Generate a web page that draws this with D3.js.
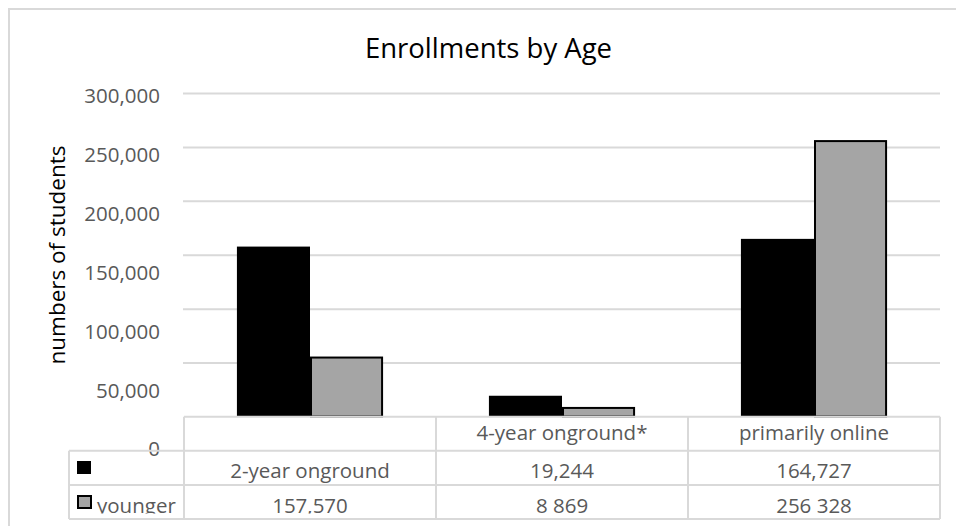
<!DOCTYPE html>
<html>
<head>
<meta charset="utf-8">
<script src="https://cdn.jsdelivr.net/npm/d3@7/dist/d3.min.js"></script>
<style>
  html, body { margin: 0; padding: 0; background: #fff; }
  svg { display: block; font-family: "Open Sans", sans-serif; }
</style>
</head>
<body>
<svg id="chart" width="956" height="526"></svg>
<script>
// Enrollment counts per institution type
const categories = ["2-year onground", "4-year onground*", "primarily online"];
const seriesNames = ["", "younger"];
const olderValues = [157570, 19244, 164727];
const youngerValues = [55600, 8869, 256328];
const yTicks = [0, 50000, 100000, 150000, 200000, 250000, 300000];

// Data-table text as laid out under the plot
const tableHeader = ["", "4-year onground*", "primarily online"];
const tableRowOlder = ["2-year onground", "19,244", "164,727"];
const tableRowYounger = ["157,570", "8 869", "256 328"];

const svg = d3.select("#chart");
const textGray = "#595959";
const lineGray = "#d9d9d9";
const seriesFill = ["#000000", "#a5a5a5"];

const plot = { left: 184, right: 940, top: 93, bottom: 416.5 };

// chart frame
svg.append("path")
  .attr("d", `M9,526 L9,9 L956,9`)
  .attr("fill", "none").attr("stroke", lineGray).attr("stroke-width", 2);

// title
svg.append("text")
  .attr("x", 488.5).attr("y", 58)
  .attr("text-anchor", "middle")
  .attr("font-size", 27.5).attr("fill", "#000")
  .text("Enrollments by Age");

// scales
const y = d3.scaleLinear().domain([0, 300000]).range([plot.bottom, plot.top]);
const yLabel = d3.scaleLinear().domain([0, 300000]).range([448.5, 95.5]);
const x0 = d3.scaleBand().domain(categories).range([plot.left, plot.right]).padding(0);
const groupW = x0.bandwidth() * 0.58;
const x1 = d3.scaleBand().domain(d3.range(seriesNames.length))
  .range([(x0.bandwidth() - groupW) / 2, (x0.bandwidth() + groupW) / 2]).padding(0);

// gridlines
const grid = svg.append("g")
  .attr("transform", `translate(${plot.left - 1},0)`)
  .call(d3.axisLeft(y).tickValues(yTicks.filter(d => d > 0))
    .tickSize(-(plot.right - plot.left + 1)).tickFormat(""));
grid.select(".domain").remove();
grid.selectAll("line").attr("stroke", lineGray).attr("stroke-width", 2);

// tick labels
const labels = svg.append("g")
  .attr("transform", `translate(160,0)`)
  .call(d3.axisLeft(yLabel).tickValues(yTicks).tickSize(0).tickPadding(0)
    .tickFormat(d3.format(",")));
labels.select(".domain").remove();
labels.selectAll("text")
  .attr("fill", textGray).attr("font-size", 20.5)
  .attr("font-family", "'Open Sans', sans-serif")
  .attr("dy", "0.36em");

// axis title
svg.append("text")
  .attr("transform", `translate(65,255) rotate(-90)`)
  .attr("text-anchor", "middle")
  .attr("font-size", 22.5).attr("fill", "#000")
  .text("numbers of students");

// bars
const series = [olderValues, youngerValues];
series.forEach((vals, si) => {
  svg.append("g").selectAll("rect")
    .data(vals)
    .join("rect")
    .attr("x", (d, i) => x0(categories[i]) + x1(si) + (si === 1 ? 1 : 0))
    .attr("y", d => y(d) + (si === 1 ? 1 : 0))
    .attr("width", x1.bandwidth() - (si === 1 ? 2 : 0))
    .attr("height", d => plot.bottom - y(d) - (si === 1 ? 1 : 0))
    .attr("fill", seriesFill[si])
    .attr("stroke", si === 1 ? "#000" : "none")
    .attr("stroke-width", 2);
});

// data table
const rowTop = [416.7, 450.7, 485, 519];
const tableLeft = 69;
const tableLines = svg.append("g").attr("stroke", lineGray).attr("stroke-width", 2).attr("fill", "none");
tableLines.append("line").attr("x1", plot.left).attr("x2", plot.right).attr("y1", rowTop[0]).attr("y2", rowTop[0]);
rowTop.slice(1).forEach(ry => {
  tableLines.append("line").attr("x1", tableLeft).attr("x2", plot.right).attr("y1", ry).attr("y2", ry);
});
tableLines.append("line").attr("x1", tableLeft).attr("x2", tableLeft).attr("y1", rowTop[1]).attr("y2", rowTop[3]);
[plot.left, ...categories.map(c => x0(c) + x0.bandwidth())].forEach(vx => {
  tableLines.append("line").attr("x1", vx).attr("x2", vx).attr("y1", rowTop[0]).attr("y2", rowTop[3]);
});

svg.append("clipPath").attr("id", "rowclip")
  .append("rect").attr("x", 0).attr("y", 0).attr("width", 956).attr("height", 513.5);

const tableText = svg.append("g").attr("clip-path", "url(#rowclip)")
  .attr("fill", textGray).attr("font-size", 20.5).attr("text-anchor", "middle");
const rows = [tableHeader, tableRowOlder, tableRowYounger];
const baselines = [439.5, 478, 512.5];
rows.forEach((cells, ri) => {
  tableText.append("g").selectAll("text")
    .data(cells)
    .join("text")
    .attr("x", (d, i) => x0(categories[i]) + x0.bandwidth() / 2)
    .attr("y", baselines[ri])
    .text(d => d);
});

// legend keys in the table
svg.append("rect").attr("x", 77).attr("y", 461).attr("width", 14).attr("height", 13).attr("fill", seriesFill[0]);
svg.append("rect").attr("x", 78).attr("y", 496).attr("width", 13).attr("height", 12)
  .attr("fill", seriesFill[1]).attr("stroke", "#000").attr("stroke-width", 2);
tableText.append("text").attr("x", 97).attr("y", baselines[2]).attr("text-anchor", "start").text(seriesNames[1]);
tableText.append("text").attr("x", 97).attr("y", baselines[1]).attr("text-anchor", "start").text(seriesNames[0]);
</script>
</body>
</html>
